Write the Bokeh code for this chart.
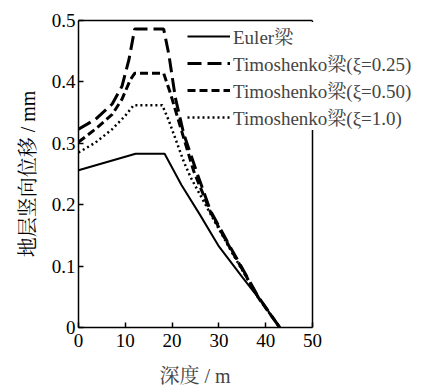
from bokeh.plotting import figure
from bokeh.models import Legend, LegendItem, FixedTicker, Range1d, LinearAxis, Span, Title
from bokeh.embed import file_html
from bokeh.resources import INLINE

# ---- data ----
x_euler = [0, 12.2, 18.4, 22, 26, 30, 35, 40, 43]
y_euler = [0.256, 0.283, 0.283, 0.232, 0.183, 0.132, 0.082, 0.033, 0]

x_t025 = [0, 3.6, 7.2, 9.3, 10.8, 12.0, 18.2, 19.3, 20.7, 22.5, 25.4, 28.2, 32.5, 38.5, 43]
y_t025 = [0.323, 0.339, 0.364, 0.393, 0.437, 0.486, 0.486, 0.445, 0.374, 0.315, 0.25, 0.19, 0.13, 0.049, 0]

x_t050 = [0, 3.6, 7.2, 9.3, 11.1, 12.0, 18.2, 19.7, 21.8, 24.6, 28.2, 32.5, 38.5, 43]
y_t050 = [0.302, 0.323, 0.347, 0.372, 0.404, 0.414, 0.414, 0.38, 0.326, 0.255, 0.188, 0.128, 0.048, 0]

x_t10 = [0, 3.6, 7.2, 10, 11.8, 17.9, 19.3, 22.5, 24, 28.2, 32.5, 38.5, 43]
y_t10 = [0.285, 0.301, 0.323, 0.345, 0.362, 0.362, 0.337, 0.27, 0.244, 0.185, 0.126, 0.047, 0]

series_labels = ["Euler梁", "Timoshenko梁(ξ=0.25)", "Timoshenko梁(ξ=0.50)", "Timoshenko梁(ξ=1.0)"]
x_ticks = [0, 10, 20, 30, 40, 50]
y_ticks = [0, 0.1, 0.2, 0.3, 0.4, 0.5]
y_tick_labels = {0: "0", 0.1: "0.1", 0.2: "0.2", 0.3: "0.3", 0.4: "0.4", 0.5: "0.5"}
x_min, x_max = 0, 50
y_min, y_max = 0, 0.5
x_label = "深度 / m"
y_label = "地层竖向位移 / mm"

FONT = "'Liberation Serif', 'Noto Serif CJK SC', 'Noto Sans CJK SC', serif"

# layout (pixels): the data frame is widened to the right so the legend,
# which overhangs the axes box in the reference, is not clipped.
FRAME_L, FRAME_R, AXES_R = 78, 436, 312
x_end = x_max + (x_max - x_min) * (FRAME_R - AXES_R) / (AXES_R - FRAME_L)

p = figure(width=441, height=388, output_backend="svg", toolbar_location=None,
           x_range=Range1d(x_min, x_end), y_range=Range1d(y_min, y_max),
           min_border_left=FRAME_L, min_border_right=441 - FRAME_R,
           min_border_top=20, min_border_bottom=61)
p.background_fill_color = "white"
p.border_fill_color = "white"
p.outline_line_color = None
p.xgrid.visible = False
p.ygrid.visible = False

r1 = p.line(x_euler, y_euler, line_color="black", line_width=2)
r2 = p.line(x_t025, y_t025, line_color="black", line_width=3, line_dash="14 6")
r3 = p.line(x_t050, y_t050, line_color="black", line_width=3, line_dash="8 4")
r4 = p.line(x_t10, y_t10, line_color="black", line_width=2.5, line_dash="2 3")

for ax in (p.xaxis[0], p.yaxis[0]):
    ax.axis_line_color = "black"
    ax.axis_line_width = 1.5
    ax.major_tick_in = 5
    ax.major_tick_out = 0
    ax.minor_tick_in = 0
    ax.minor_tick_out = 0
    ax.major_tick_line_width = 1.5
    ax.major_label_text_font = FONT
    ax.major_label_text_font_size = "19px"
    ax.major_label_text_color = "black"
    ax.axis_label_text_font = FONT
    ax.axis_label_text_font_size = "20px"
    ax.axis_label_text_font_style = "normal"
    ax.axis_label_text_color = "black"

p.xaxis.ticker = FixedTicker(ticks=x_ticks)
p.yaxis.ticker = FixedTicker(ticks=y_ticks)
p.xaxis.bounds = (x_min, x_max)
p.yaxis.major_label_overrides = y_tick_labels
p.yaxis.axis_label = y_label
p.xaxis.major_label_standoff = 6
p.yaxis.major_label_standoff = 3
p.yaxis.axis_label_standoff = 10
# blank spacer label below the x tick labels (pushes the x title down)
p.xaxis.axis_label = "\u00a0"
p.xaxis.axis_label_text_font_size = "6px"
p.xaxis.axis_label_standoff = 3

# top edge of the axes box
top_axis = LinearAxis(bounds=(x_min, x_max), ticker=FixedTicker(ticks=[]),
                      axis_line_color="black", axis_line_width=1.5,
                      major_tick_in=0, major_tick_out=0, minor_tick_in=0, minor_tick_out=0,
                      major_label_text_font_size="0px")
p.add_layout(top_axis, "above")

# right edge of the axes box
p.add_layout(Span(location=x_max, dimension="height", line_color="black", line_width=1.5))

# x-axis title centred under the axes box
p.add_layout(Title(text=x_label, align="left", offset=81, text_font=FONT,
                   text_font_size="20px", text_font_style="normal", standoff=2), "below")

legend = Legend(items=[LegendItem(label=series_labels[0], renderers=[r1]),
                       LegendItem(label=series_labels[1], renderers=[r2]),
                       LegendItem(label=series_labels[2], renderers=[r3]),
                       LegendItem(label=series_labels[3], renderers=[r4])],
                location=(109, 197), margin=0, padding=0, spacing=0,
                glyph_width=43, glyph_height=20, label_height=20, label_standoff=3,
                label_text_font=FONT, label_text_font_size="19px",
                border_line_color=None, background_fill_color="white", background_fill_alpha=1.0)
p.add_layout(legend, "center")

open("out.html", "w").write(file_html(p, INLINE))
